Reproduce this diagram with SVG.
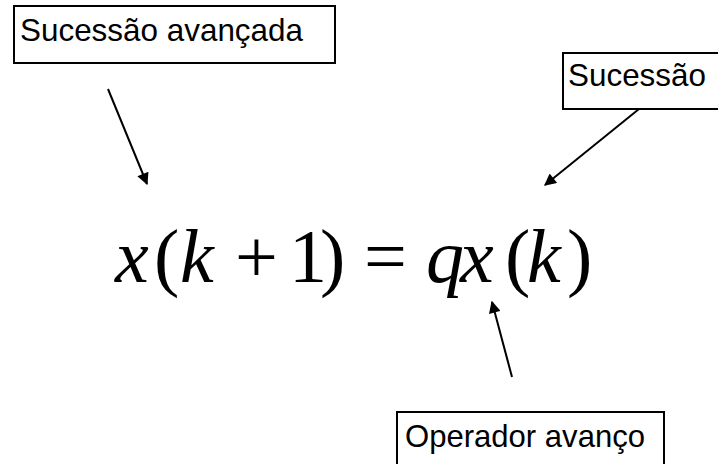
<svg xmlns="http://www.w3.org/2000/svg" width="718" height="464" viewBox="0 0 718 464">
<defs>
<style>
.box{fill:#fff;stroke:#000;stroke-width:2}
.lbl{font-family:"Liberation Sans",Arial,sans-serif;font-size:31.5px;fill:#000}
.eq{font-family:"Liberation Serif","Times New Roman",serif;font-size:76px;fill:#000}
.it{font-style:italic}
.conn{stroke:#000;stroke-width:2;fill:none;marker-end:url(#ah)}
</style>
<marker id="ah" viewBox="0 0 10 10" refX="9" refY="5" markerWidth="6.5" markerHeight="6" orient="auto" markerUnits="strokeWidth">
<path d="M0,0 L10,5 L0,10 z" fill="#000"/>
</marker>
</defs>
<rect width="718" height="464" fill="#fff"/>
<g id="node-sucessao-avancada">
<rect class="box" x="14" y="6" width="321" height="57"/>
<text class="lbl" x="20" y="41" textLength="283" lengthAdjust="spacingAndGlyphs">Sucessão avançada</text>
</g>
<g id="node-sucessao">
<rect class="box" x="563" y="53" width="160" height="56"/>
<text class="lbl" x="568" y="86" textLength="138" lengthAdjust="spacingAndGlyphs">Sucessão</text>
</g>
<g id="node-operador">
<rect class="box" x="397" y="412" width="267" height="60"/>
<text class="lbl" x="405" y="447" textLength="240" lengthAdjust="spacingAndGlyphs">Operador avanço</text>
</g>
<g id="equation">
<text class="eq" y="282"><tspan class="it" x="115">x</tspan><tspan x="154">(</tspan><tspan class="it" x="180">k</tspan><tspan x="235">+</tspan><tspan x="289">1</tspan><tspan x="320">)</tspan><tspan x="364">=</tspan><tspan class="it" x="426">q</tspan><tspan class="it" x="460">x</tspan><tspan x="505">(</tspan><tspan class="it" x="527">k</tspan><tspan x="567">)</tspan></text>
</g>
<g id="connectors">
<line class="conn" x1="108" y1="89" x2="147" y2="184"/>
<line class="conn" x1="639" y1="109" x2="545" y2="185"/>
<line class="conn" x1="512" y1="377" x2="492" y2="302"/>
</g>
</svg>
